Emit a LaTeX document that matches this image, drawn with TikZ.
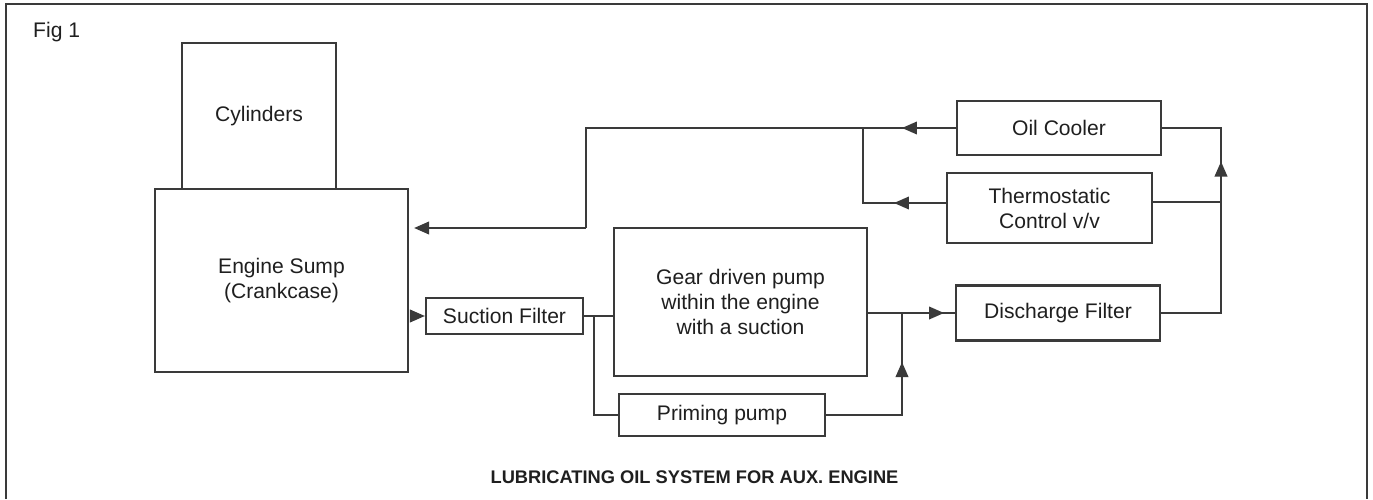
\documentclass[tikz,border=0pt]{standalone}
\usepackage{fontspec}
\setmainfont{Liberation Sans}
\usetikzlibrary{arrows.meta}
\definecolor{linea}{HTML}{3A3A3A}

\begin{document}
\begin{tikzpicture}[line cap=butt, text=black!88,
  font=\fontsize{12}{14.2}\selectfont,
  caja/.style={draw=linea, line width=1.2pt, inner sep=0pt, align=center},
  tubo/.style={draw=linea, line width=1.2pt},
  flujo/.style={tubo, -{Triangle[length=3mm,width=2.5mm]}}]

\useasboundingbox (0,0) rectangle (27.46,9.98);

% --- marco ---
\draw[linea, line width=0.9pt] (0.12,0) -- (0.12,9.9) -- (27.34,9.9) -- (27.34,0);
\node[anchor=west] (fig) at (0.54,9.34) {Fig 1};

% --- motor ---
\node[caja, minimum width=3.08cm, minimum height=2.92cm] (cil) at (5.18,7.66) {Cylinders};
\node[caja, minimum width=5.06cm, minimum height=3.66cm] (carter) at (5.63,4.37) {Engine Sump\\(Crankcase)};

% --- bombas y filtros ---
\node[caja, minimum width=3.14cm, minimum height=0.72cm] (fsuc) at (10.09,3.66) {Suction Filter};
\node[caja, minimum width=5.06cm, minimum height=2.96cm] (bomba) at (14.81,3.94)
  {Gear driven pump\\within the engine\\with a suction};
\node[caja, minimum width=4.12cm, minimum height=0.84cm] (cebado) at (14.44,1.68) {Priming pump};
\node[caja, minimum width=4.08cm, minimum height=1.1cm] (fdesc) at (21.16,3.72) {Discharge Filter};

% --- enfriamiento ---
\node[caja, minimum width=4.08cm, minimum height=1.08cm] (enfr) at (21.18,7.42) {Oil Cooler};
\node[caja, minimum width=4.1cm, minimum height=1.4cm] (termo) at (20.99,5.82) {Thermostatic\\Control v/v};

% uniones
\coordinate (jsuc) at (11.88,3.66);
\coordinate (jdesc) at (18.04,3.72);
\coordinate (jret) at (17.26,7.42);
\coordinate (codo) at (11.72,5.42);
\coordinate (jder) at (24.42,3.72);

% --- aspiracion ---
\draw[flujo, shorten <=1mm] (fsuc.west -| carter.east) -- (fsuc.west);
\draw[tubo] (fsuc.east) -- (fsuc.east -| bomba.west);
\draw[tubo] (jsuc) |- (cebado.west);

% --- descarga ---
\draw[tubo] (bomba.east |- fdesc.west) -- (fdesc.west);
\draw[flujo] (bomba.east |- fdesc.west) -- ++(1.52,0);
\draw[tubo] (cebado.east) -| (jdesc);
\draw[flujo] (cebado.east -| jdesc) -- ++(0,1.06);

% --- hacia el enfriador y el termostato ---
\draw[tubo] (fdesc.east) -- (jder) |- (enfr.east);
\draw[flujo] (jder) -- ++(0,3.03);
\draw[tubo] (termo.east |- 0,5.94) -- (jder |- 0,5.94);

% --- retorno al carter ---
\draw[tubo] (enfr.west) -- (jret) -- (codo |- jret) -- (codo);
\draw[flujo] (enfr.west) -- ++(-1.08,0);
\draw[tubo] (termo.west |- 0,5.92) -| (jret);
\draw[flujo] (termo.west |- 0,5.92) -- ++(-1.04,0);
\draw[flujo, shorten >=1mm] (codo) -- (codo -| carter.east);

% --- titulo ---
\node[font=\bfseries\fontsize{10.4}{12}\selectfont] (titulo) at (13.89,0.44)
  {LUBRICATING OIL SYSTEM FOR AUX. ENGINE};

\end{tikzpicture}
\end{document}
